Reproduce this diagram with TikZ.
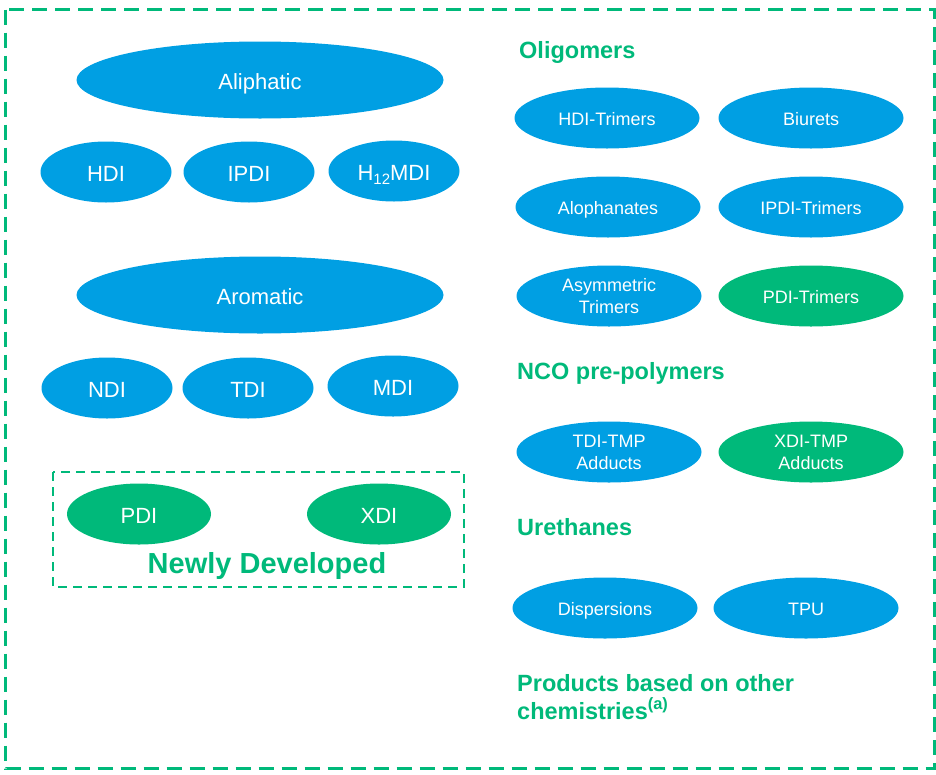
\documentclass[tikz,border=0pt]{standalone}
\usepackage{fontspec}
\setmainfont{Liberation Sans}
\usetikzlibrary{shapes.geometric}
\definecolor{bl}{HTML}{009FE3}
\definecolor{gr}{HTML}{00B97A}
\begin{document}
\begin{tikzpicture}[x=1pt,y=-1pt,
 oval/.style={ellipse, fill=bl, text=white, inner sep=0pt, font=\fontsize{18}{22}\selectfont, align=center},
 bigoval/.style={oval, minimum width=367pt, minimum height=77pt, font=\fontsize{22}{26}\selectfont, text height=18pt, text depth=0pt},
 midoval/.style={oval, minimum width=131pt, minimum height=61pt, font=\fontsize{22}{26}\selectfont, text height=18pt, text depth=0pt},
 newoval/.style={oval, fill=gr, minimum width=144pt, minimum height=61pt, font=\fontsize{22}{26}\selectfont, text height=18pt, text depth=0pt},
 wideoval/.style={oval, minimum width=185pt, minimum height=61pt},
 oneline/.style={text height=15pt, text depth=0pt},
 greenfill/.style={fill=gr},
 head/.style={anchor=base west, text=gr, font=\bfseries\fontsize{23.5}{28}\selectfont, inner sep=0pt}]
\useasboundingbox (0,0) rectangle (936,774);
% frames
\draw[gr, line width=2.5pt, dash pattern=on 15pt off 8pt] (5.5,9.5) rectangle (934.5,768.5);
\draw[gr, line width=2.5pt, dash pattern=on 9pt off 6pt] (53,472) rectangle (464,587);
% left column
\node[bigoval] (aliph) at (260,80) {Aliphatic};
\node[midoval] (hdi) at (106,172) {HDI};
\node[midoval] (ipdi) at (249,172) {IPDI};
\node[midoval] (hmdi) at (394,171) {H\raisebox{-0.35ex}{\fontsize{15}{15}\selectfont 12}MDI};
\node[bigoval] (arom) at (260,295) {Aromatic};
\node[midoval] (ndi) at (107,388) {NDI};
\node[midoval] (tdi) at (248,388) {TDI};
\node[midoval] (mdi) at (393,386) {MDI};
\node[newoval] (pdi) at (139,514) {PDI};
\node[newoval] (xdi) at (379,514) {XDI};
\node[anchor=base, text=gr, font=\bfseries\fontsize{29}{34}\selectfont, inner sep=0pt] (newdev) at (267,573) {Newly Developed};
% right column
\node[head] (olig) at (519,58) {Oligomers};
\node[wideoval, oneline] (hditri) at (607,118) {HDI-Trimers};
\node[wideoval, oneline] (biur) at (811,118) {Biurets};
\node[wideoval, oneline] (aloph) at (608,207) {Alophanates};
\node[wideoval, oneline] (ipditri) at (811,207) {IPDI-Trimers};
\node[wideoval] (asym) at (609,296) {Asymmetric\\Trimers};
\node[wideoval, greenfill, oneline] (pditri) at (811,296) {PDI-Trimers};
\node[head] (nco) at (517,379) {NCO pre-polymers};
\node[wideoval] (tdtmp) at (609,452) {TDI-TMP\\Adducts};
\node[wideoval, greenfill] (xdtmp) at (811,452) {XDI-TMP\\Adducts};
\node[head] (ureth) at (517,535) {Urethanes};
\node[wideoval, oneline] (disp) at (605,608) {Dispersions};
\node[wideoval, oneline] (tpu) at (806,608) {TPU};
\node[head] (prod1) at (517,691) {Products based on other};
\node[head] (prod2) at (517,719) {chemistries\textsuperscript{(a)}};
\end{tikzpicture}
\end{document}
